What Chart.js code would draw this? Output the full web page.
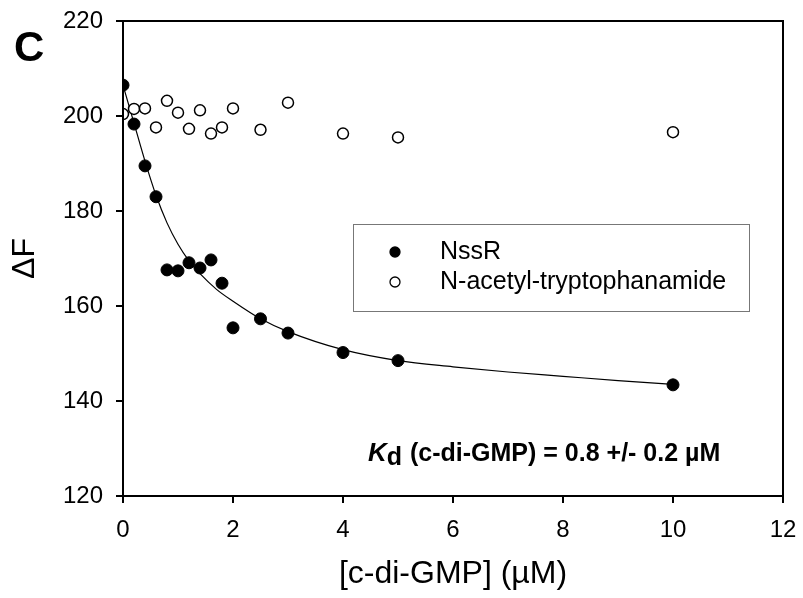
<!DOCTYPE html>
<html>
<head>
<meta charset="utf-8">
<script src="https://cdn.jsdelivr.net/npm/chart.js@4/dist/chart.umd.min.js"></script>
<style>
  html, body { margin: 0; padding: 0; background: #fff; }
  #wrap { width: 803px; height: 598px; position: relative; }
</style>
</head>
<body>
<div id="wrap"><canvas id="chart"></canvas></div>
<script>
// ── Data ──
const concX = [0, 0.2, 0.4, 0.6, 0.8, 1.0, 1.2, 1.4, 1.6, 1.8, 2.0, 2.5, 3.0, 4.0, 5.0, 10.0];
const nssrY = [206.5, 198.3, 189.5, 183.0, 167.6, 167.4, 169.1, 168.0, 169.7, 164.8, 155.4, 157.3, 154.3, 150.2, 148.5, 143.4];

const trpX = [0, 0.2, 0.4, 0.6, 0.8, 1.0, 1.2, 1.4, 1.6, 1.8, 2.0, 2.5, 3.0, 4.0, 5.0, 10.0];
const trpY = [200.4, 201.5, 201.6, 197.6, 203.2, 200.7, 197.3, 201.2, 196.3, 197.6, 201.6, 197.1, 202.8, 196.3, 195.5, 196.6];

// fitted curve
const fitX = [0, 0.2, 0.4, 0.6, 0.8, 1.0, 1.2, 1.4, 1.7, 2.0, 2.5, 3.0, 4.0, 5.0, 6.0, 7.0, 8.0, 9.0, 10.0];
const fitY = [206.5, 198.5, 190.5, 183.3, 177.5, 173.0, 169.5, 166.8, 163.5, 161.0, 157.3, 154.6, 150.8, 148.5, 147.2, 146.1, 145.2, 144.3, 143.5];

const xTicks = [0, 2, 4, 6, 8, 10, 12];
const yTicks = [120, 140, 160, 180, 200, 220];

const seriesNames = ['NssR', 'N-acetyl-tryptophanamide'];
const xTitle = '[c-di-GMP] (\u00B5M)';
const yTitle = '\u0394F';
const panelLetter = 'C';

const FONT = '"Liberation Sans", Arial, Helvetica, sans-serif';

const toPts = (xs, ys) => xs.map((x, i) => ({ x: x, y: ys[i] }));

// ── Frame, panel letter, legend box and Kd note ──
const decorPlugin = {
    id: 'decor',
    afterDraw(chart) {
        const ctx = chart.ctx;
        const a = chart.chartArea;
        ctx.save();
        // full box frame
        ctx.strokeStyle = '#000';
        ctx.lineWidth = 2;
        ctx.strokeRect(a.left, a.top, a.right - a.left, a.bottom - a.top);

        // panel letter
        ctx.fillStyle = '#000';
        ctx.font = 'bold 42px ' + FONT;
        ctx.textAlign = 'left';
        ctx.textBaseline = 'alphabetic';
        ctx.fillText(panelLetter, 14, 61);

        // cut-off title of the panel above
        ctx.font = '30px ' + FONT;
        ctx.textAlign = 'center';
        ctx.fillText(xTitle, 455, -6);

        // legend
        const lx = 353, ly = 224, lw = 396, lh = 87;
        ctx.fillStyle = '#fff';
        ctx.fillRect(lx, ly, lw, lh);
        ctx.strokeStyle = '#777';
        ctx.lineWidth = 1;
        ctx.strokeRect(lx + 0.5, ly + 0.5, lw, lh);

        const ds = chart.data.datasets;
        const rows = [252, 282];
        for (let i = 0; i < 2; i++) {
            ctx.beginPath();
            ctx.arc(395, rows[i], 5, 0, Math.PI * 2);
            ctx.fillStyle = ds[i].backgroundColor;
            ctx.fill();
            ctx.lineWidth = 1.3;
            ctx.strokeStyle = '#000';
            ctx.stroke();
            ctx.fillStyle = '#000';
            ctx.font = '25px ' + FONT;
            ctx.textAlign = 'left';
            ctx.textBaseline = 'middle';
            ctx.fillText(ds[i].label, 440, rows[i]);
        }

        // Kd annotation
        let x = 368;
        const base = 461;
        ctx.textBaseline = 'alphabetic';
        ctx.textAlign = 'left';
        ctx.font = 'italic bold 26px ' + FONT;
        ctx.fillText('K', x, base);
        x += ctx.measureText('K').width;
        ctx.font = 'bold 25px ' + FONT;
        ctx.fillText('d', x, base + 4);
        x += ctx.measureText('d').width + 1;
        ctx.font = 'bold 25px ' + FONT;
        ctx.fillText(' (c-di-GMP) = 0.8 +/- 0.2 \u00B5M', x, base);
        ctx.restore();
    }
};

new Chart(document.getElementById('chart'), {
    type: 'scatter',
    data: {
        datasets: [
            {
                label: seriesNames[0],
                data: toPts(concX, nssrY),
                backgroundColor: '#000',
                borderColor: '#000',
                borderWidth: 1,
                pointRadius: 6,
                showLine: false
            },
            {
                label: seriesNames[1],
                data: toPts(trpX, trpY),
                backgroundColor: '#fff',
                borderColor: '#000',
                borderWidth: 1.5,
                pointRadius: 5.5,
                showLine: false
            },
            {
                label: 'fit',
                data: toPts(fitX, fitY),
                borderColor: '#000',
                borderWidth: 1.2,
                pointRadius: 0,
                showLine: true,
                fill: false,
                cubicInterpolationMode: 'monotone'
            }
        ]
    },
    options: {
        responsive: true,
        maintainAspectRatio: false,
        animation: false,
        layout: { padding: { left: 0, top: 21, right: 20, bottom: 0 } },
        plugins: {
            legend: { display: false },
            tooltip: { enabled: false }
        },
        scales: {
            x: {
                type: 'linear',
                min: 0, max: 12,
                afterBuildTicks: s => { s.ticks = xTicks.map(v => ({ value: v })); },
                afterFit: s => { s.height = 102; s.paddingLeft = 0; s.paddingRight = 0; },
                grid: { drawOnChartArea: false, drawTicks: true, tickLength: 7, color: '#000', lineWidth: 2 },
                border: { display: true, color: '#000', width: 2 },
                ticks: { color: '#000', padding: 13, font: { family: FONT, size: 24 } },
                title: {
                    display: true, text: xTitle, color: '#000',
                    font: { family: FONT, size: 32 },
                    padding: { top: 0, bottom: 5 }
                }
            },
            y: {
                type: 'linear',
                min: 120, max: 220,
                afterBuildTicks: s => { s.ticks = yTicks.map(v => ({ value: v })); },
                afterFit: s => { s.width = 123; s.paddingTop = 0; s.paddingBottom = 0; },
                grid: { drawOnChartArea: false, drawTicks: true, tickLength: 7, color: '#000', lineWidth: 2 },
                border: { display: true, color: '#000', width: 2 },
                ticks: { color: '#000', padding: 13, font: { family: FONT, size: 24 } },
                title: {
                    display: true, text: yTitle, color: '#000',
                    font: { family: FONT, size: 32 },
                    padding: { top: 6, bottom: 0 }
                }
            }
        }
    },
    plugins: [decorPlugin]
});
</script>
</body>
</html>
